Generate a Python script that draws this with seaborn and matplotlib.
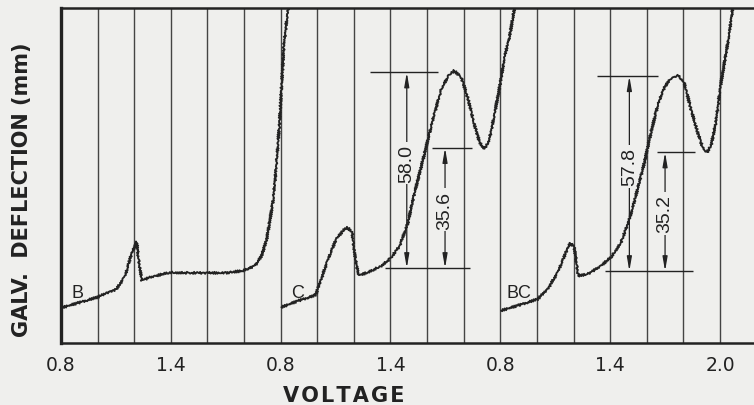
import numpy as np
import pandas as pd
import matplotlib
matplotlib.use("Agg")
import matplotlib.pyplot as plt
import seaborn as sns

# curve B (first sweep), voltage vs galvanometer deflection (mm)
b_volt = [0.80, 0.90, 0.995, 1.05, 1.104, 1.15, 1.177, 1.186, 1.214, 1.221, 1.241, 1.286, 1.395,
          1.50, 1.60, 1.70, 1.796, 1.860, 1.896, 1.924, 1.942, 1.960, 1.973, 1.984, 1.993,
          2.006, 2.018, 2.033, 2.042]
b_defl = [10.4, 12.0, 13.5, 14.8, 16.0, 19.9, 24.9, 26.4, 30.0, 26.0, 18.5, 19.5, 20.9,
          20.8, 20.8, 20.8, 21.4, 22.9, 25.9, 30.8, 36.7, 42.7, 50.6, 58.5, 64.4,
          77.2, 88.1, 96.0, 99.5]

# curve C (second sweep)
c_volt = [0.804, 0.895, 0.991, 1.022, 1.059, 1.104, 1.141, 1.164, 1.190, 1.208, 1.226, 1.278,
          1.350, 1.400, 1.450, 1.496, 1.532, 1.569, 1.605, 1.642, 1.678, 1.715, 1.748, 1.787,
          1.824, 1.860, 1.887, 1.911, 1.937, 1.970, 1.997, 2.024, 2.051, 2.078]
c_defl = [10.6, 12.5, 14.2, 19.0, 24.9, 30.8, 33.3, 34.3, 32.8, 24.9, 20.1, 20.9,
          22.9, 25.1, 28.8, 35.8, 44.7, 52.5, 60.4, 68.4, 75.3, 79.2, 80.7, 78.7,
          72.3, 64.4, 59.5, 57.5, 59.5, 68.4, 76.2, 85.1, 91.0, 99.5]

# curve BC (third sweep)
bc_volt = [0.804, 0.895, 1.004, 1.059, 1.113, 1.159, 1.182, 1.204, 1.226, 1.277, 1.350, 1.405,
           1.459, 1.505, 1.550, 1.587, 1.623, 1.659, 1.696, 1.732, 1.769, 1.805, 1.841, 1.878,
           1.905, 1.929, 1.951, 1.978, 2.000, 2.018, 2.046, 2.070]
bc_defl = [9.6, 11.1, 13.0, 16.0, 20.9, 26.9, 29.6, 28.4, 19.9, 20.4, 22.9, 25.4,
           29.8, 36.7, 45.6, 53.5, 62.4, 70.3, 75.8, 78.4, 79.4, 77.2, 69.3, 62.4,
           58.0, 56.5, 58.5, 65.4, 75.3, 81.2, 90.1, 99.5]

curve_names = ["B", "C", "BC"]
# each sweep is drawn 1.2 V further right on the chart
sweep_shift = [0.0, 1.2, 2.4]

# wave heights marked on C and BC (mm): baseline, total, second wave
wave_base = [22.2, 21.3]
wave_total = [58.0, 57.8]
wave_second = [35.6, 35.2]

tick_pos = [0.8, 1.4, 2.0, 2.6, 3.2, 3.8, 4.4]
tick_labels = ["0.8", "1.4", "0.8", "1.4", "0.8", "1.4", "2.0"]

df = pd.concat([
    pd.DataFrame({"pos": np.array(v) + s, "defl": d, "curve": n})
    for v, d, n, s in zip([b_volt, c_volt, bc_volt], [b_defl, c_defl, bc_defl],
                          curve_names, sweep_shift)
])

bg = "#efefed"
ink = "#222222"
thin = ["Liberation Sans", "DejaVu Sans"]

sns.set_theme(style="white")
plt.rcParams["font.family"] = ["DejaVu Sans"]

fig = plt.figure(figsize=(7.54, 4.06), dpi=100, facecolor=bg)
ax = fig.add_axes([61 / 754, 62 / 406, 693 / 754, 335 / 406], facecolor=bg)

# vertical chart-paper lines every 0.2 V
for k in range(1, 19):
    ax.axvline(0.8 + 0.2 * k, color="#444444", lw=1.0, zorder=1)

n_before = len(ax.lines)
sns.lineplot(data=df, x="pos", y="defl", units="curve", estimator=None, sort=False,
             color=ink, lw=1.35, ax=ax, zorder=3)
# the recorder trace has a fine saw-tooth from the dropping electrode
for line in ax.lines[n_before:]:
    line.set_sketch_params(1.1, 2.0, 1.5)

# curve letters
for name, s in zip(curve_names, sweep_shift):
    xoff = 0.09 if name != "BC" else 0.10
    ax.text(0.8 + s + xoff, 15.0, name, ha="center", va="center", fontsize=13,
            family=thin, color=ink, zorder=4)

# dimension arrows on C and BC
# (x of arrow / line extents in volts within each sweep)
ann = [
    dict(shift=1.2, a1=1.489, a2=1.698, top1=(1.288, 1.660), base=(1.370, 1.834), top2=(1.627, 1.844)),
    dict(shift=2.4, a1=1.505, a2=1.700, top1=(1.326, 1.663), base=(1.372, 1.854), top2=(1.654, 1.864)),
]
for i, a in enumerate(ann):
    s = a["shift"]
    base = wave_base[i]
    t1 = base + wave_total[i]
    t2 = base + wave_second[i]
    ax.hlines(base, a["base"][0] + s, a["base"][1] + s, color=ink, lw=1.0, zorder=2)
    ax.hlines(t1, a["top1"][0] + s, a["top1"][1] + s, color=ink, lw=1.0, zorder=2)
    ax.hlines(t2, a["top2"][0] + s, a["top2"][1] + s, color=ink, lw=1.0, zorder=2)
    for ax_x, top, val, dy in [(a["a1"] + s, t1, wave_total[i], 2.2),
                               (a["a2"] + s, t2, wave_second[i], -0.5)]:
        ax.annotate("", xy=(ax_x, top), xytext=(ax_x, base),
                    arrowprops=dict(arrowstyle="<|-|>,head_length=0.7,head_width=0.12",
                                    color=ink, lw=0.9, shrinkA=0, shrinkB=0), zorder=2)
        ax.text(ax_x, (base + top) / 2 + dy, f"{val:.1f}", rotation=90, ha="center", va="center",
                fontsize=14, family=thin, color=ink, zorder=2.5,
                bbox=dict(boxstyle="square,pad=0.12", fc=bg, ec="none"))

ax.set_xlim(0.8, 0.8 + 693 / 183.05)
ax.set_ylim(0, 99.3)
ax.set_xticks(tick_pos)
ax.set_xticklabels(tick_labels)
ax.set_yticks([])
ax.tick_params(axis="x", length=0, pad=9, labelsize=13.5, colors=ink)

for side in ["left", "bottom", "top"]:
    ax.spines[side].set_color(ink)
ax.spines["left"].set_linewidth(2.4)
ax.spines["bottom"].set_linewidth(1.8)
ax.spines["top"].set_linewidth(1.8)
ax.spines["right"].set_visible(False)

ax.set_xlabel("V O L T A G E".replace(" ", "\u200a"), fontsize=15, fontweight="bold", color=ink)
ax.xaxis.set_label_coords((344 - 61) / 693, (344 - 386) / 335)
ax.xaxis.label.set_va("top")
ax.set_ylabel("GALV.  DEFLECTION (mm)", fontsize=15, fontweight="bold", color=ink)
ax.yaxis.set_label_coords((32 - 61) / 693, (344 - 190) / 335)

fig.savefig("out.png", dpi=100, facecolor=bg)
